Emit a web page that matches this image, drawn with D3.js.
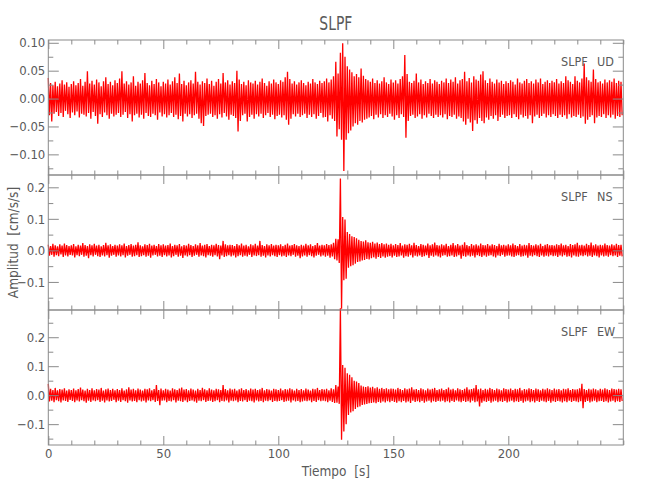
<!DOCTYPE html>
<html><head><meta charset="utf-8">
<script src="https://cdn.jsdelivr.net/npm/d3@7"></script>
<style>body{margin:0;background:#fff}text{white-space:pre}</style></head>
<body><svg id="c" width="650" height="500"></svg>
<script>
// ---- data (envelope of each 1 s window: upper / lower peak, cm/s/s) ----
const station = "SLPF";
const components = ["UD", "NS", "EW"];
const stepSeconds = 1;

const udHigh = [.037,.028,.024,.030,.022,.027,.033,.025,.029,.021,
.026,.031,.024,.028,.035,.023,.030,.049,.027,.032,
.025,.034,.029,.022,.031,.038,.026,.030,.024,.033,
.028,.036,.049,.027,.031,.025,.029,.040,.023,.030,
.027,.033,.046,.028,.024,.032,.026,.035,.029,.022,
.030,.027,.034,.025,.031,.038,.028,.045,.026,.032,
.024,.029,.033,.027,.048,.030,.025,.031,.028,.036,
.026,.032,.023,.030,.035,.027,.046,.029,.033,.025,
.031,.028,.050,.034,.026,.030,.024,.033,.029,.027,
.032,.025,.030,.036,.028,.023,.031,.027,.034,.029,
.026,.033,.030,.038,.048,.035,.027,.031,.025,.029,
.033,.028,.024,.030,.027,.035,.029,.026,.032,.028,
.031,.036,.029,.034,.040,.066,.045,.082,.099,.075,
.058,.052,.047,.040,.044,.038,.054,.041,.035,.033,
.030,.036,.028,.033,.027,.031,.038,.029,.026,.034,
.029,.033,.027,.035,.040,.078,.044,.030,.028,.032,
.045,.029,.034,.026,.031,.028,.035,.027,.033,.030,
.026,.032,.029,.036,.028,.034,.030,.038,.027,.033,
.035,.048,.031,.037,.029,.040,.034,.032,.043,.049,
.033,.028,.036,.030,.027,.034,.029,.032,.026,.031,
.028,.033,.030,.025,.036,.029,.027,.032,.035,.028,
.031,.027,.034,.029,.036,.026,.030,.033,.028,.032,
.029,.035,.027,.031,.028,.040,.033,.030,.026,.040,
.032,.029,.036,.063,.038,.033,.030,.052,.035,.029,
.031,.027,.034,.029,.033,.030,.036,.028,.032,.030];

const udLow = [-.030,-.041,-.027,-.024,-.031,-.026,-.033,-.022,-.028,-.035,
-.025,-.030,-.023,-.034,-.027,-.029,-.032,-.026,-.036,-.024,
-.031,-.045,-.028,-.033,-.025,-.030,-.036,-.027,-.032,-.029,
-.026,-.033,-.029,-.024,-.035,-.028,-.041,-.030,-.027,-.034,
-.029,-.036,-.026,-.031,-.033,-.027,-.030,-.038,-.025,-.032,
-.028,-.034,-.030,-.026,-.033,-.029,-.037,-.031,-.041,-.027,
-.032,-.028,-.035,-.030,-.027,-.036,-.044,-.049,-.031,-.029,
-.027,-.033,-.030,-.036,-.028,-.034,-.026,-.032,-.038,-.029,
-.031,-.035,-.059,-.040,-.030,-.027,-.041,-.033,-.029,-.036,
-.028,-.032,-.027,-.035,-.030,-.026,-.033,-.029,-.037,-.031,
-.029,-.034,-.030,-.038,-.047,-.036,-.028,-.032,-.027,-.033,
-.030,-.027,-.035,-.029,-.033,-.028,-.036,-.031,-.026,-.034,
-.033,-.041,-.030,-.036,-.040,-.068,-.055,-.074,-.130,-.074,
-.062,-.057,-.050,-.044,-.047,-.040,-.043,-.038,-.036,-.034,
-.031,-.037,-.029,-.034,-.028,-.035,-.030,-.033,-.027,-.032,
-.038,-.030,-.035,-.028,-.033,-.070,-.040,-.031,-.029,-.035,
-.032,-.028,-.036,-.030,-.034,-.027,-.031,-.035,-.029,-.033,
-.030,-.034,-.028,-.037,-.031,-.033,-.029,-.036,-.032,-.035,
-.041,-.047,-.036,-.043,-.058,-.039,-.045,-.035,-.040,-.044,
-.034,-.038,-.031,-.036,-.030,-.040,-.033,-.029,-.035,-.031,
-.030,-.035,-.028,-.033,-.037,-.029,-.034,-.031,-.036,-.030,
-.044,-.032,-.029,-.035,-.031,-.027,-.034,-.030,-.033,-.028,
-.031,-.035,-.029,-.033,-.030,-.036,-.028,-.034,-.031,-.033,
-.029,-.035,-.032,-.045,-.038,-.033,-.030,-.044,-.034,-.031,
-.033,-.028,-.035,-.030,-.034,-.029,-.036,-.031,-.033,-.030];

const nsHigh = [.018,.014,.021,.016,.013,.019,.015,.022,.017,.014,
.016,.020,.013,.018,.015,.023,.017,.014,.019,.016,
.021,.015,.018,.013,.017,.024,.016,.019,.014,.018,
.015,.019,.016,.022,.014,.017,.020,.015,.018,.026,
.016,.013,.019,.017,.021,.015,.018,.014,.020,.016,
.019,.015,.017,.022,.014,.018,.016,.020,.013,.017,
.015,.021,.017,.014,.019,.016,.023,.015,.018,.020,
.014,.018,.016,.021,.017,.015,.030,.019,.016,.018,
.017,.014,.020,.016,.022,.015,.018,.013,.019,.016,
.021,.015,.030,.017,.014,.019,.016,.020,.015,.018,
.016,.019,.014,.018,.022,.015,.017,.020,.016,.014,
.018,.015,.021,.016,.019,.014,.017,.023,.015,.018,
.016,.020,.017,.019,.024,.037,.035,.228,.106,.098,
.058,.052,.045,.042,.038,.034,.030,.028,.032,.026,
.024,.027,.022,.025,.020,.023,.019,.022,.018,.021,
.016,.020,.017,.023,.015,.019,.018,.021,.016,.024,
.017,.014,.020,.018,.015,.022,.016,.019,.025,.017,
.015,.019,.016,.021,.014,.018,.023,.016,.020,.015,
.018,.026,.017,.014,.020,.016,.019,.015,.022,.017,
.016,.020,.015,.019,.017,.014,.021,.016,.018,.015,
.019,.016,.022,.017,.014,.020,.015,.018,.016,.023,
.017,.015,.019,.016,.021,.014,.018,.020,.016,.017,
.015,.019,.017,.022,.016,.018,.014,.020,.017,.019,
.024,.016,.018,.015,.021,.017,.025,.016,.019,.015,
.018,.016,.022,.017,.015,.019,.016,.021,.017,.018];

const nsLow = [-.017,-.014,-.020,-.015,-.018,-.013,-.021,-.016,-.019,-.014,
-.016,-.022,-.015,-.018,-.014,-.020,-.017,-.025,-.015,-.019,
-.014,-.018,-.021,-.016,-.019,-.015,-.023,-.017,-.014,-.020,
-.016,-.019,-.015,-.022,-.017,-.014,-.020,-.018,-.015,-.021,
-.018,-.015,-.020,-.017,-.023,-.016,-.014,-.019,-.017,-.021,
-.015,-.019,-.016,-.022,-.018,-.014,-.020,-.017,-.024,-.016,
-.019,-.015,-.021,-.017,-.014,-.020,-.016,-.018,-.022,-.015,
-.017,-.020,-.015,-.019,-.028,-.016,-.021,-.018,-.015,-.019,
-.016,-.022,-.018,-.015,-.020,-.017,-.019,-.014,-.021,-.016,
-.018,-.015,-.020,-.017,-.022,-.016,-.019,-.015,-.018,-.021,
-.015,-.019,-.017,-.021,-.016,-.018,-.014,-.020,-.017,-.025,
-.019,-.016,-.020,-.015,-.018,-.022,-.017,-.014,-.019,-.016,
-.020,-.017,-.023,-.019,-.028,-.032,-.040,-.185,-.095,-.090,
-.055,-.050,-.047,-.042,-.037,-.035,-.032,-.030,-.027,-.029,
-.025,-.022,-.026,-.021,-.024,-.019,-.023,-.020,-.018,-.022,
-.017,-.021,-.019,-.016,-.023,-.018,-.020,-.015,-.022,-.017,
-.019,-.016,-.021,-.018,-.015,-.024,-.017,-.020,-.016,-.019,
-.022,-.017,-.015,-.020,-.018,-.016,-.021,-.019,-.015,-.026,
-.018,-.020,-.016,-.019,-.017,-.022,-.015,-.018,-.021,-.016,
-.020,-.017,-.015,-.019,-.022,-.016,-.018,-.014,-.020,-.017,
-.016,-.019,-.021,-.017,-.015,-.020,-.018,-.016,-.023,-.017,
-.019,-.015,-.018,-.021,-.016,-.020,-.017,-.019,-.015,-.018,
-.017,-.021,-.016,-.019,-.015,-.020,-.018,-.022,-.016,-.019,
-.020,-.016,-.018,-.015,-.019,-.017,-.021,-.016,-.018,-.022,
-.016,-.019,-.017,-.020,-.015,-.018,-.016,-.021,-.017,-.019];

const ewHigh = [.039,.022,.018,.025,.017,.021,.019,.024,.016,.020,
.018,.023,.017,.021,.026,.019,.016,.022,.018,.024,
.017,.021,.019,.025,.016,.020,.023,.018,.022,.017,
.021,.018,.024,.016,.020,.027,.019,.022,.017,.023,
.019,.016,.022,.020,.024,.017,.021,.035,.018,.023,
.017,.022,.019,.016,.024,.020,.018,.023,.026,.019,
.021,.017,.023,.019,.016,.022,.018,.025,.020,.017,
.024,.019,.017,.022,.020,.018,.035,.021,.017,.023,
.019,.022,.016,.020,.024,.018,.021,.017,.023,.019,
.022,.018,.020,.025,.017,.021,.019,.016,.022,.020,
.018,.023,.017,.021,.019,.024,.020,.016,.022,.018,
.021,.017,.023,.019,.016,.022,.020,.025,.018,.021,
.019,.022,.017,.024,.020,.035,.030,.300,.104,.095,
.076,.070,.062,.050,.047,.042,.033,.030,.028,.031,
.026,.029,.024,.027,.022,.025,.021,.024,.020,.023,
.022,.019,.025,.021,.018,.024,.020,.023,.027,.019,
.021,.018,.024,.020,.017,.023,.019,.022,.025,.018,
.020,.023,.018,.021,.026,.019,.022,.017,.024,.020,
.018,.022,.027,.019,.021,.024,.035,.020,.023,.018,
.022,.019,.025,.021,.018,.023,.020,.017,.024,.021,
.019,.023,.018,.022,.020,.025,.017,.021,.019,.024,
.021,.018,.023,.020,.017,.022,.019,.024,.020,.018,
.023,.019,.021,.017,.022,.020,.024,.018,.021,.019,
.020,.024,.039,.021,.018,.022,.019,.023,.020,.017,
.022,.019,.024,.020,.018,.023,.021,.019,.022,.020];

const ewLow = [-.022,-.019,-.024,-.017,-.021,-.025,-.018,-.020,-.023,-.016,
-.020,-.024,-.018,-.022,-.017,-.021,-.026,-.019,-.023,-.018,
-.021,-.017,-.023,-.019,-.025,-.018,-.022,-.020,-.016,-.024,
-.019,-.023,-.017,-.021,-.026,-.018,-.022,-.020,-.024,-.017,
-.022,-.019,-.025,-.018,-.021,-.017,-.023,-.020,-.035,-.019,
-.018,-.024,-.020,-.022,-.017,-.025,-.019,-.021,-.023,-.018,
-.024,-.020,-.018,-.022,-.026,-.019,-.021,-.017,-.023,-.020,
-.019,-.023,-.021,-.017,-.024,-.020,-.022,-.018,-.025,-.019,
-.021,-.018,-.024,-.020,-.022,-.017,-.023,-.019,-.021,-.025,
-.018,-.022,-.020,-.024,-.019,-.021,-.017,-.023,-.020,-.022,
-.020,-.017,-.023,-.021,-.019,-.025,-.018,-.022,-.020,-.024,
-.022,-.019,-.021,-.018,-.024,-.020,-.023,-.017,-.021,-.019,
-.021,-.024,-.019,-.023,-.027,-.026,-.030,-.154,-.125,-.100,
-.068,-.060,-.055,-.048,-.042,-.039,-.034,-.032,-.030,-.028,
-.027,-.025,-.028,-.023,-.026,-.022,-.025,-.021,-.024,-.020,
-.023,-.026,-.021,-.024,-.020,-.025,-.022,-.027,-.019,-.023,
-.021,-.024,-.020,-.026,-.022,-.019,-.025,-.021,-.023,-.020,
-.022,-.019,-.024,-.021,-.025,-.020,-.023,-.018,-.022,-.024,
-.020,-.023,-.021,-.025,-.019,-.024,-.022,-.039,-.026,-.021,
-.023,-.020,-.026,-.022,-.019,-.024,-.021,-.023,-.020,-.025,
-.022,-.019,-.024,-.021,-.023,-.020,-.026,-.022,-.019,-.024,
-.021,-.025,-.020,-.023,-.019,-.022,-.024,-.020,-.026,-.021,
-.023,-.020,-.022,-.025,-.021,-.024,-.019,-.023,-.020,-.022,
-.024,-.021,-.045,-.023,-.020,-.025,-.022,-.019,-.024,-.021,
-.020,-.023,-.021,-.025,-.022,-.019,-.024,-.021,-.023,-.020];

// axis ranges and ticks
const timeDomain = [0, 250];
const xTicks = [0, 50, 100, 150, 200];
const xMinorTicks = d3.range(0, 251, 10);
const udDomain = [-0.137, 0.105];
const nsDomain = [-0.189, 0.239];
const ewDomain = [-0.172, 0.294];
const udTicks = [0.10, 0.05, 0.00, -0.05, -0.10];
const udMinor = [0.075, 0.025, -0.025, -0.075, -0.125];
const nsTicks = [0.2, 0.1, 0.0, -0.1];
const nsMinor = [0.15, 0.05, -0.05, -0.15];
const ewTicks = [0.2, 0.1, 0.0, -0.1];
const ewMinor = [0.25, 0.15, 0.05, -0.05, -0.15];

// ---- drawing ----
const svg = d3.select("#c");
const FONT = "'Liberation Sans Narrow','DejaVu Sans Condensed',sans-serif";
const TXT = "#5a5a5a", AX = "#8a8a8a";
const left = 48.3, right = 623.3;
const panelTops = [40, 175, 310], panelH = 135;

svg.append("rect").attr("width", 650).attr("height", 500).attr("fill", "#fff");

const x = d3.scaleLinear().domain(timeDomain).range([left, right]);

const panels = [
  {comp: components[0], hi: udHigh, lo: udLow, dom: udDomain, ticks: udTicks, minor: udMinor, fmt: d3.format(".2f")},
  {comp: components[1], hi: nsHigh, lo: nsLow, dom: nsDomain, ticks: nsTicks, minor: nsMinor, fmt: d3.format(".1f")},
  {comp: components[2], hi: ewHigh, lo: ewLow, dom: ewDomain, ticks: ewTicks, minor: ewMinor, fmt: d3.format(".1f")}
];

panels.forEach((p, k) => {
  const top = panelTops[k], bottom = top + panelH;
  const y = d3.scaleLinear().domain(p.dom).range([bottom, top]);
  const g = svg.append("g");

  // trace
  const pts = [];
  p.hi.forEach((v, i) => {
    pts.push([i * stepSeconds, v]);
    pts.push([i * stepSeconds + stepSeconds / 2, p.lo[i]]);
  });
  g.append("path")
    .attr("d", d3.line().x(d => x(d[0])).y(d => y(d[1]))(pts))
    .attr("fill", "none").attr("stroke", "#ff0000").attr("stroke-width", 1.3)
    .attr("stroke-linejoin", "miter").attr("stroke-miterlimit", 2);

  // frame
  g.append("rect").attr("x", left).attr("y", top).attr("width", right - left).attr("height", panelH)
    .attr("fill", "none").attr("stroke", AX).attr("stroke-width", 1);

  const style = sel => {
    sel.select(".domain").remove();
    sel.selectAll("line").attr("stroke", AX);
    sel.selectAll("text").attr("fill", TXT).attr("font-family", FONT).attr("font-size", 13);
  };
  const minorX = xMinorTicks.filter(t => xTicks.indexOf(t) < 0);
  // bottom
  g.append("g").attr("transform", `translate(0,${bottom})`)
    .call(d3.axisBottom(x).tickValues(xTicks).tickSizeInner(-9).tickSizeOuter(0).tickPadding(4)
      .tickFormat(k === 2 ? d3.format("d") : () => "")).call(style);
  g.append("g").attr("transform", `translate(0,${bottom})`)
    .call(d3.axisBottom(x).tickValues(minorX).tickSize(-4.5).tickFormat(() => "")).call(style);
  // top
  g.append("g").attr("transform", `translate(0,${top})`)
    .call(d3.axisTop(x).tickValues(xTicks).tickSize(-9).tickFormat(() => "")).call(style);
  g.append("g").attr("transform", `translate(0,${top})`)
    .call(d3.axisTop(x).tickValues(minorX).tickSize(-4.5).tickFormat(() => "")).call(style);
  // left
  g.append("g").attr("transform", `translate(${left},0)`)
    .call(d3.axisLeft(y).tickValues(p.ticks).tickSizeInner(-10.5).tickSizeOuter(0).tickPadding(3)
      .tickFormat(p.fmt)).call(style);
  g.append("g").attr("transform", `translate(${left},0)`)
    .call(d3.axisLeft(y).tickValues(p.minor).tickSize(-5).tickFormat(() => "")).call(style);
  // right
  g.append("g").attr("transform", `translate(${right},0)`)
    .call(d3.axisRight(y).tickValues(p.ticks).tickSize(-10.5).tickFormat(() => "")).call(style);
  g.append("g").attr("transform", `translate(${right},0)`)
    .call(d3.axisRight(y).tickValues(p.minor).tickSize(-5).tickFormat(() => "")).call(style);

  // panel label
  g.append("text").attr("x", 561).attr("y", top + 26).text(station)
    .attr("fill", TXT).attr("font-family", FONT).attr("font-size", 12.5);
  g.append("text").attr("x", 597).attr("y", top + 26).text(p.comp)
    .attr("fill", TXT).attr("font-family", FONT).attr("font-size", 12.5);
});

// titles
svg.append("text").attr("x", (left + right) / 2).attr("y", 30).attr("text-anchor", "middle")
  .attr("fill", TXT).attr("font-family", FONT).attr("font-size", 20)
  .attr("textLength", 33).attr("lengthAdjust", "spacingAndGlyphs").text(station);
svg.append("text").attr("x", (left + right) / 2).attr("y", 476).attr("text-anchor", "middle")
  .attr("fill", TXT).attr("font-family", FONT).attr("font-size", 13.5).text("Tiempo  [s]");
svg.append("text").attr("transform", "translate(18,242.5) rotate(-90)").attr("text-anchor", "middle")
  .attr("fill", TXT).attr("font-family", FONT).attr("font-size", 13.5).text("Amplitud  [cm/s/s]");
</script>
</body></html>
